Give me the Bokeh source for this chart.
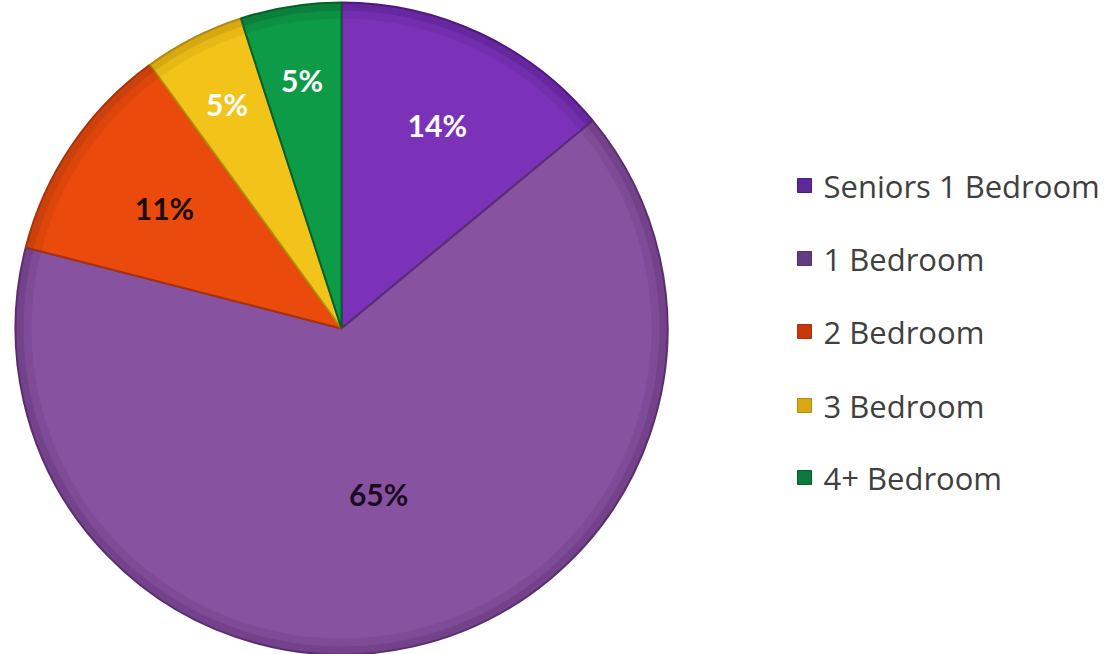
import math
from bokeh.plotting import figure
from bokeh.models import Range1d, ColumnDataSource
from bokeh.core.properties import value
from bokeh.embed import file_html
from bokeh.resources import INLINE

# ---- data ----
categories = ["Seniors 1 Bedroom", "1 Bedroom", "2 Bedroom", "3 Bedroom", "4+ Bedroom"]
shares = [14, 65, 11, 5, 5]
pct_labels = ["14%", "65%", "11%", "5%", "5%"]

# ---- style ----
colors = ["#7B32B8", "#8752A0", "#EA4B0C", "#F2C41A", "#0E9B47"]
dark = ["#4E1A80", "#5A2F70", "#A8320A", "#B38A0A", "#07602B"]
legend_fill = ["#5E2896", "#643C82", "#C8380A", "#D9A812", "#0B7A3A"]
label_colors = ["white", "#1A0A22", "#1A0A0A", "white", "white"]
label_r = [225, 170, 214, 252, 252]

W, H = 1117, 654
cx, cy, R = 341, H - 328, 326

p = figure(width=W, height=H, output_backend="svg", toolbar_location=None,
           x_range=Range1d(0, W), y_range=Range1d(0, H), min_border=0)
p.axis.visible = False
p.grid.visible = False
p.outline_line_color = None
p.background_fill_color = "white"
p.border_fill_color = "white"

total = float(sum(shares))
starts, ends, mids = [], [], []
cum = 0.0
for s in shares:
    a0 = math.pi / 2 - (cum + s) / total * 2 * math.pi
    a1 = math.pi / 2 - cum / total * 2 * math.pi
    starts.append(a0)
    ends.append(a1)
    mids.append((a0 + a1) / 2)
    cum += s

src = ColumnDataSource(dict(start=starts, end=ends, color=colors, dark=dark))

# base wedges
p.wedge(x=cx, y=cy, radius=R, start_angle="start", end_angle="end",
        fill_color="color", line_color="dark", line_width=2, source=src)
# outer rim shading (bevel)
p.annular_wedge(x=cx, y=cy, inner_radius=R - 8, outer_radius=R, start_angle="start",
                end_angle="end", fill_color="dark", fill_alpha=0.45, line_color=None, source=src)
p.annular_wedge(x=cx, y=cy, inner_radius=R - 16, outer_radius=R - 8, start_angle="start",
                end_angle="end", fill_color="dark", fill_alpha=0.18, line_color=None, source=src)

# labels
lx = [cx + r * math.cos(m) for r, m in zip(label_r, mids)]
ly = [cy + r * math.sin(m) for r, m in zip(label_r, mids)]
p.text(x=lx, y=ly, text=pct_labels, text_color=label_colors, text_font=value("Lato"),
       text_font_style="bold", text_font_size="30px", text_align="center", text_baseline="middle")

# legend
leg_y = [H - 185, H - 258, H - 331, H - 405, H - 477]
p.rect(x=[804] * 5, y=leg_y, width=14, height=14, fill_color=legend_fill, line_color=dark, line_width=1)
p.text(x=[823] * 5, y=leg_y, text=categories, text_color="#404040", text_font=value("Open Sans"),
       text_font_size="31px", text_align="left", text_baseline="middle")

open("out.html", "w").write(file_html(p, INLINE))
